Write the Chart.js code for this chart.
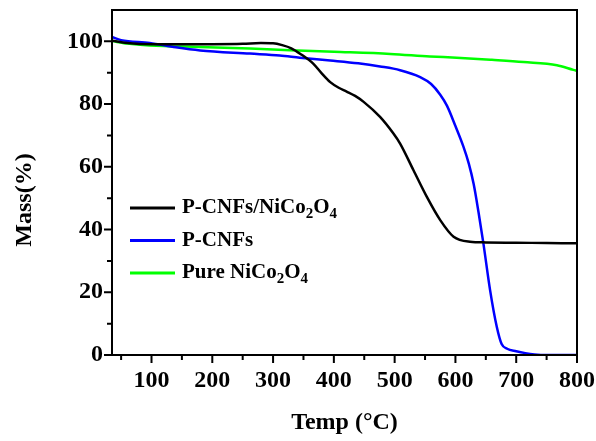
<!DOCTYPE html>
<html lang="en">
<head>
  <meta charset="UTF-8">
  <title>TGA curves</title>
  <script src="https://cdn.jsdelivr.net/npm/chart.js"></script>
  <style>
    html, body { margin: 0; padding: 0; background: #fff; }
    #wrap { width: 596px; height: 441px; }
  </style>
</head>
<body>
  <div id="wrap"><canvas id="tga"></canvas></div>
  <script>
    // values
    const compositeTemp = [35, 60, 100, 150, 200, 250, 280, 300, 315, 330, 345, 366, 380, 394, 408, 421, 435, 449, 476, 498, 509, 531, 553, 575, 597, 624, 650, 700, 750, 800];
    const compositeMass = [100.2, 99.5, 99.1, 99.1, 99.1, 99.2, 99.5, 99.4, 98.8, 97.8, 96.0, 92.9, 89.8, 87.0, 85.2, 84.0, 82.6, 80.7, 75.9, 70.6, 67.4, 58.9, 50.4, 43.0, 37.7, 36.1, 35.9, 35.8, 35.7, 35.6];

    const cnfTemp = [35, 50, 97, 140, 180, 262, 311, 344, 394, 440, 476, 509, 542, 560, 575, 586, 600, 613, 622, 630, 638, 646, 657, 668, 676, 685, 700, 715, 730, 750, 800];
    const cnfMass = [101.4, 100.4, 99.5, 98.1, 97.1, 96.1, 95.5, 94.8, 93.9, 93.0, 92.0, 90.8, 88.6, 86.4, 83.0, 79.5, 73.0, 66.5, 61.0, 54.5, 45.5, 35.6, 20.7, 9.0, 3.5, 2.0, 1.2, 0.6, 0.2, 0, 0];

    const oxideTemp = [35, 60, 97, 180, 262, 328, 400, 493, 558, 602, 660, 712, 767, 794, 800];
    const oxideMass = [100.1, 99.3, 98.7, 98.2, 97.7, 97.2, 96.7, 96.0, 95.2, 94.8, 94.1, 93.4, 92.4, 90.9, 90.6];

    const seriesNames = ['P-CNFs/NiCo_2O_4', 'P-CNFs', 'Pure NiCo_2O_4'];
    const seriesColors = ['#000000', '#0000ff', '#00ff00'];

    const xMajor = [100, 200, 300, 400, 500, 600, 700, 800];
    const xMinor = [50, 150, 250, 350, 450, 550, 650, 750];
    const yMajor = [0, 20, 40, 60, 80, 100];
    const yMinor = [10, 30, 50, 70, 90];

    const toPoints = (xs, ys) => xs.map((x, i) => ({ x: x, y: ys[i] }));

    const serif = '"Liberation Serif", "Times New Roman", serif';

    // frame, tick marks, y title and the legend with subscripts
    const decor = {
      id: 'decor',
      afterDraw(chart) {
        const c = chart.ctx;
        const a = chart.chartArea;
        const xs = chart.scales.x, ys = chart.scales.y;
        c.save();
        c.strokeStyle = '#000';
        c.lineWidth = 2;
        c.strokeRect(a.left, a.top, a.right - a.left, a.bottom - a.top);
        c.beginPath();
        xMajor.forEach(v => { const p = xs.getPixelForValue(v); c.moveTo(p, a.bottom); c.lineTo(p, a.bottom + 8); });
        xMinor.forEach(v => { const p = xs.getPixelForValue(v); c.moveTo(p, a.bottom); c.lineTo(p, a.bottom + 5); });
        yMajor.forEach(v => { const p = ys.getPixelForValue(v); c.moveTo(a.left, p); c.lineTo(a.left - 8, p); });
        yMinor.forEach(v => { const p = ys.getPixelForValue(v); c.moveTo(a.left, p); c.lineTo(a.left - 5, p); });
        c.stroke();

        // y axis title
        c.save();
        c.translate(25, 200);
        c.rotate(-Math.PI / 2);
        c.fillStyle = '#000';
        c.font = 'bold 24px ' + serif;
        c.textAlign = 'center';
        c.textBaseline = 'middle';
        c.fillText('Mass(%)', 0, 0);
        c.restore();

        // legend
        const lx = a.left + 18, ly = a.top + 198, gap = 32.5;
        seriesNames.forEach((name, i) => {
          const y = ly + i * gap;
          c.strokeStyle = seriesColors[i];
          c.lineWidth = 3;
          c.beginPath();
          c.moveTo(lx, y);
          c.lineTo(lx + 45, y);
          c.stroke();
          let tx = lx + 52;
          c.fillStyle = '#000';
          c.textBaseline = 'middle';
          name.split(/(_\d)/).forEach(part => {
            if (!part) return;
            if (part[0] === '_') {
              c.font = 'bold 15px ' + serif;
              c.fillText(part.slice(1), tx, y + 6);
              tx += c.measureText(part.slice(1)).width;
            } else {
              c.font = 'bold 21px ' + serif;
              c.fillText(part, tx, y);
              tx += c.measureText(part).width;
            }
          });
        });
        c.restore();
      }
    };

    const ctx = document.getElementById('tga').getContext('2d');
    new Chart(ctx, {
      type: 'line',
      data: {
        datasets: [
          { label: seriesNames[0], data: toPoints(compositeTemp, compositeMass), borderColor: seriesColors[0] },
          { label: seriesNames[1], data: toPoints(cnfTemp, cnfMass), borderColor: seriesColors[1] },
          { label: seriesNames[2], data: toPoints(oxideTemp, oxideMass), borderColor: seriesColors[2] }
        ]
      },
      options: {
        responsive: true,
        maintainAspectRatio: false,
        animation: false,
        layout: { padding: { left: 0, right: 19, top: 10, bottom: 0 } },
        elements: {
          point: { radius: 0 },
          line: { borderWidth: 2.5, cubicInterpolationMode: 'monotone', fill: false }
        },
        plugins: { legend: { display: false }, tooltip: { enabled: false } },
        scales: {
          x: {
            type: 'linear',
            min: 35,
            max: 800,
            afterFit: s => { s.height = 86; s.paddingLeft = 0; s.paddingRight = 0; },
            afterBuildTicks: s => { s.ticks = xMajor.map(v => ({ value: v })); },
            grid: { drawOnChartArea: false, drawTicks: false, color: 'rgba(0,0,0,0)' },
            border: { display: false },
            ticks: { padding: 11, color: '#000', font: { family: serif, size: 24, weight: 'bold' }, maxRotation: 0 },
            title: { display: true, text: 'Temp (°C)', color: '#000', font: { family: serif, size: 24, weight: 'bold' }, padding: { top: 8 } }
          },
          y: {
            min: 0,
            max: 110,
            afterFit: s => { s.width = 112; s.paddingTop = 0; s.paddingBottom = 0; },
            afterBuildTicks: s => { s.ticks = yMajor.map(v => ({ value: v })); },
            grid: { drawOnChartArea: false, drawTicks: false, color: 'rgba(0,0,0,0)' },
            border: { display: false },
            ticks: { padding: 9, color: '#000', font: { family: serif, size: 24, weight: 'bold' } },
            title: { display: false }
          }
        }
      },
      plugins: [decor]
    });
  </script>
</body>
</html>
